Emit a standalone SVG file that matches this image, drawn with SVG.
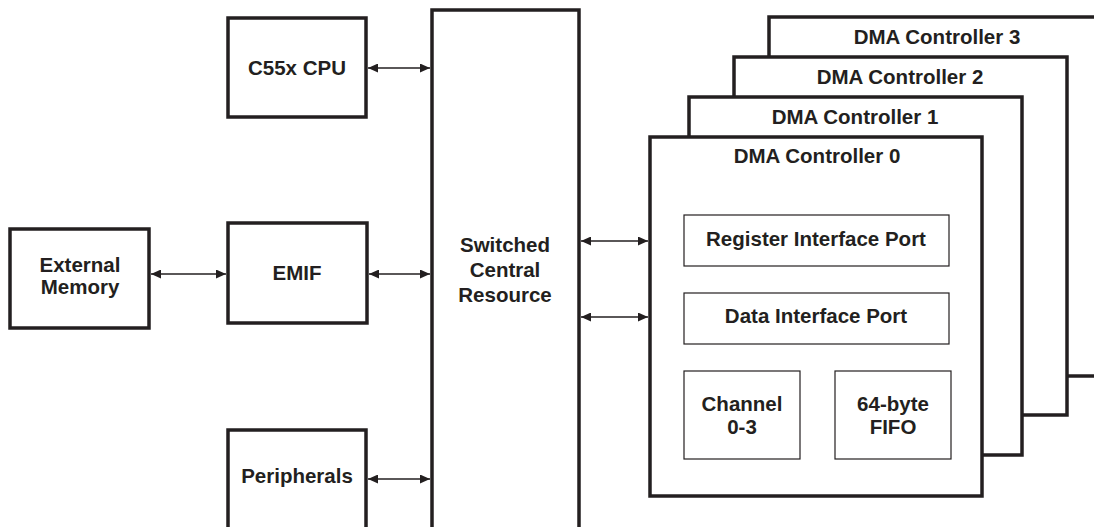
<svg xmlns="http://www.w3.org/2000/svg" width="1094" height="527" viewBox="0 0 1094 527">
<defs>
<marker id="ah" viewBox="0 0 10 10" refX="10" refY="5" markerWidth="10" markerHeight="9" markerUnits="userSpaceOnUse" orient="auto-start-reverse" preserveAspectRatio="none">
<path d="M0,0 L10,5 L0,10 z" fill="#231f20"/>
</marker>
<style>
.box{fill:#fff;stroke:#231f20;stroke-width:3.5}
.inner{fill:#fff;stroke:#231f20;stroke-width:1.2}
.t{font-family:"Liberation Sans",Arial,sans-serif;font-weight:bold;font-size:20.5px;fill:#231f20;text-anchor:middle}
.c{stroke:#231f20;stroke-width:1.4;fill:none;marker-start:url(#ah);marker-end:url(#ah)}
</style>
</defs>
<rect width="1094" height="527" fill="#fff"/>
<g id="dma3"><rect class="box" x="769" y="17" width="340" height="359"/><text class="t" x="937" y="44">DMA Controller 3</text></g>
<g id="dma2"><rect class="box" x="734" y="57" width="333" height="358"/><text class="t" x="900" y="84">DMA Controller 2</text></g>
<g id="dma1"><rect class="box" x="689" y="97" width="333" height="358"/><text class="t" x="855" y="124">DMA Controller 1</text></g>
<g id="dma0"><rect class="box" x="650" y="137" width="332" height="359"/><text class="t" x="817" y="163">DMA Controller 0</text></g>
<g id="rip"><rect class="inner" x="684" y="215" width="265" height="51"/><text class="t" x="816" y="246">Register Interface Port</text></g>
<g id="dip"><rect class="inner" x="684" y="293" width="265" height="51"/><text class="t" x="816" y="323">Data Interface Port</text></g>
<g id="chan"><rect class="inner" x="684" y="371" width="116" height="88"/><text class="t" x="742" y="411">Channel</text><text class="t" x="742" y="434">0-3</text></g>
<g id="fifo"><rect class="inner" x="835" y="371" width="116" height="88"/><text class="t" x="893" y="411">64-byte</text><text class="t" x="893" y="434">FIFO</text></g>
<g id="cpu"><rect class="box" x="228" y="18" width="138" height="99"/><text class="t" x="297" y="75">C55x CPU</text></g>
<g id="extmem"><rect class="box" x="10" y="229" width="139" height="99"/><text class="t" x="80" y="272">External</text><text class="t" x="80" y="294">Memory</text></g>
<g id="emif"><rect class="box" x="228" y="223" width="139" height="100"/><text class="t" x="297" y="280">EMIF</text></g>
<g id="periph"><rect class="box" x="228" y="430" width="138" height="110"/><text class="t" x="297" y="483">Peripherals</text></g>
<g id="scr"><rect class="box" x="432" y="10" width="147" height="530"/><text class="t" x="505" y="252">Switched</text><text class="t" x="505" y="277">Central</text><text class="t" x="505" y="302">Resource</text></g>
<g id="connectors">
<line class="c" x1="368" y1="68" x2="430" y2="68"/>
<line class="c" x1="151" y1="274" x2="226" y2="274"/>
<line class="c" x1="369" y1="274" x2="430" y2="274"/>
<line class="c" x1="368" y1="479" x2="430" y2="479"/>
<line class="c" x1="581" y1="241" x2="648" y2="241"/>
<line class="c" x1="581" y1="317" x2="648" y2="317"/>
</g>
</svg>
